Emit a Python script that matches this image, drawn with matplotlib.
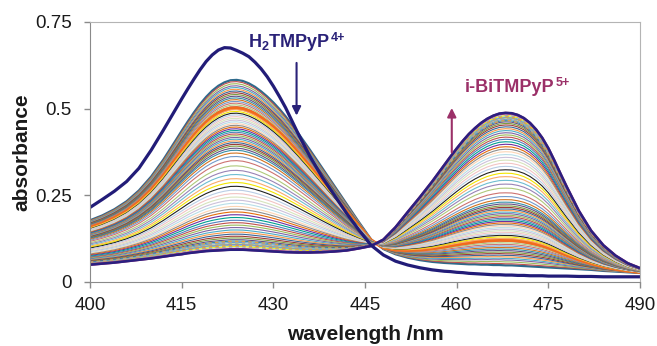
import numpy as np
import matplotlib
matplotlib.use('Agg')
import matplotlib.pyplot as plt

plt.rcParams['font.family'] = ['Liberation Sans', 'DejaVu Sans']
plt.rcParams['mathtext.fontset'] = 'custom'
plt.rcParams['mathtext.rm'] = 'Liberation Sans'
plt.rcParams['mathtext.bf'] = 'Liberation Sans:bold'

# wavelength grid (nm), 1 nm steps across both bands
wavelength = [400, 402, 404, 406, 408, 410, 412, 414,
              415, 416, 417, 418, 419, 420, 421, 422, 423, 424,
              425, 426, 427, 428, 429, 430, 431, 432,
              434, 436, 438, 440, 442, 444, 446, 448, 450, 452, 454, 456, 458,
              459, 460, 461, 462, 463, 464, 465, 466, 467, 468,
              469, 470, 471, 472, 473, 474, 475, 476, 477, 478,
              480, 482, 484, 486, 488, 490]

# free porphyrin H2TMPyP4+
free_porph = [0.215, 0.238, 0.262, 0.290, 0.328, 0.380, 0.438, 0.498,
              0.528, 0.557, 0.585, 0.612, 0.636, 0.655, 0.669, 0.676, 0.675, 0.668,
              0.660, 0.650, 0.634, 0.615, 0.592, 0.565, 0.535, 0.503,
              0.430, 0.362, 0.302, 0.250, 0.198, 0.150, 0.106, 0.078, 0.060, 0.049, 0.041, 0.035, 0.031,
              0.030, 0.028, 0.027, 0.025, 0.024, 0.023, 0.022, 0.021, 0.021, 0.020,
              0.020, 0.019, 0.019, 0.018, 0.018, 0.018, 0.017, 0.017, 0.017, 0.017,
              0.016, 0.016, 0.015, 0.015, 0.015, 0.015]

# first spectrum after Bi addition
first_scan = [0.178, 0.192, 0.210, 0.233, 0.264, 0.304, 0.353, 0.408,
              0.436, 0.463, 0.489, 0.513, 0.534, 0.552, 0.566, 0.576, 0.582, 0.583,
              0.580, 0.573, 0.563, 0.550, 0.535, 0.518, 0.499, 0.478,
              0.431, 0.381, 0.329, 0.277, 0.225, 0.173, 0.123, 0.095, 0.080, 0.070, 0.063, 0.058, 0.055,
              0.054, 0.053, 0.052, 0.051, 0.051, 0.050, 0.050, 0.049, 0.049, 0.048,
              0.048, 0.047, 0.046, 0.045, 0.044, 0.043, 0.042, 0.041, 0.040, 0.039,
              0.037, 0.035, 0.032, 0.030, 0.028, 0.026]

# final spectrum, i-BiTMPyP5+
last_scan = [0.050, 0.053, 0.056, 0.060, 0.064, 0.068, 0.073, 0.078,
             0.080, 0.083, 0.085, 0.087, 0.089, 0.090, 0.091, 0.092, 0.093, 0.093,
             0.093, 0.092, 0.091, 0.090, 0.089, 0.088, 0.087, 0.086,
             0.085, 0.085, 0.086, 0.088, 0.091, 0.097, 0.104, 0.122, 0.158, 0.202, 0.245, 0.290, 0.338,
             0.362, 0.385, 0.407, 0.427, 0.444, 0.459, 0.471, 0.480, 0.486, 0.488,
             0.487, 0.482, 0.473, 0.459, 0.440, 0.416, 0.386, 0.350, 0.312, 0.275,
             0.205, 0.148, 0.106, 0.076, 0.054, 0.040]

# Soret maximum (~423 nm) of every recorded scan
soret_max = [0.583, 0.578, 0.572, 0.566, 0.561, 0.556, 0.551, 0.546, 0.541, 0.536,
             0.531, 0.526, 0.521, 0.516, 0.511, 0.506, 0.502, 0.497, 0.492, 0.487,
             0.482, 0.477, 0.472, 0.467, 0.462, 0.457, 0.452, 0.447, 0.442, 0.437,
             0.432, 0.427, 0.422, 0.417, 0.412, 0.407, 0.402, 0.397, 0.392, 0.386,
             0.380, 0.372, 0.362, 0.350, 0.335, 0.322, 0.310, 0.298, 0.287, 0.276,
             0.265, 0.255, 0.245, 0.236, 0.227, 0.218, 0.210, 0.202, 0.194, 0.186,
             0.178, 0.171, 0.164, 0.157, 0.150, 0.144, 0.138, 0.132, 0.127, 0.122,
             0.118, 0.116, 0.114, 0.112, 0.110, 0.108, 0.106, 0.104, 0.102, 0.100,
             0.098, 0.097, 0.096, 0.095, 0.094, 0.093]

xticks = [400, 415, 430, 445, 460, 475, 490]
yticks = [0, 0.25, 0.5, 0.75]
ytick_labels = ['0', '0.25', '0.5', '0.75']

palette = ['#4F81BD', '#C0504D', '#9BBB59', '#8064A2', '#4BACC6', '#F79646',
           '#3A6595', '#9E3A38', '#7E9C40', '#664F83', '#358EA6', '#D3731F',
           '#729ACA', '#CD7371', '#AFC97A', '#9983B5', '#6FBDD1', '#F9AB6B',
           '#F2E600', '#222222', '#B9CDE5', '#F2C4C4', '#D7E4BD', '#CCC1DA',
           '#B7DEE8', '#FCD5B5', '#8C8C8C', '#E46C0A', '#7030A0', '#00A090']

fig = plt.figure(figsize=(6.57, 3.46), dpi=100)
ax = fig.add_axes([90 / 657, 1 - 282 / 346, 550 / 657, 260 / 346])

first = np.array(first_scan)
last = np.array(last_scan)
s0, s1 = soret_max[0], soret_max[-1]
n = len(soret_max)
for i, s in enumerate(soret_max):
    frac = (s0 - s) / (s0 - s1)
    spec = (1 - frac) * first + frac * last
    col = palette[i % len(palette)]
    lw, ls = 0.8, '-'
    if i == 0:
        col, lw = '#2E6A8C', 1.6
    elif abs(s - 0.502) < 1e-6:
        col, lw = '#F26B1D', 2.6
    elif s in (0.116, 0.104):
        col, ls, lw = '#F0A030', (0, (1.5, 1.5)), 1.6
    elif s in (0.112, 0.100):
        col, ls, lw = '#9AA8B8', (0, (1.5, 1.5)), 1.6
    elif i == n - 2:
        col, lw = '#A0307A', 2.0
    elif i == n - 1:
        col, lw = '#2A2080', 1.8
    ax.plot(wavelength, spec, color=col, lw=lw, ls=ls, solid_capstyle='butt')

ax.plot(wavelength, free_porph, color='#221C78', lw=2.3)

ax.annotate('', xy=(433.8, 0.472), xytext=(433.8, 0.640),
            arrowprops=dict(arrowstyle='-|>', color='#2A2278', lw=1.5, mutation_scale=13))
ax.annotate('', xy=(459.2, 0.51), xytext=(459.2, 0.366),
            arrowprops=dict(arrowstyle='-|>', color='#9B3068', lw=1.5, mutation_scale=13))

t1 = ax.text(425.8, 0.679, r'H$_\mathbf{2}$TMPyP', color='#2A2278',
             fontsize=13, fontweight='bold', va='baseline', ha='left')
ax.annotate('4+', xy=(1, 1), xycoords=t1, xytext=(0.5, -4.5), textcoords='offset points',
            color='#2A2278', fontsize=9, fontweight='bold', ha='left', va='center')
t2 = ax.text(461.4, 0.548, 'i-BiTMPyP', color='#9B3068',
             fontsize=13, fontweight='bold', va='baseline', ha='left')
ax.annotate('5+', xy=(1, 1), xycoords=t2, xytext=(0.5, -3), textcoords='offset points',
            color='#9B3068', fontsize=9, fontweight='bold', ha='left', va='center')

ax.set_xlim(400, 490)
ax.set_ylim(0, 0.75)
ax.set_xticks(xticks)
ax.set_yticks(yticks)
ax.set_yticklabels(ytick_labels)
ax.tick_params(direction='out', length=4, width=1, color='#8A8A8A',
               labelsize=13.5, labelcolor='#1A1A1A')
ax.tick_params(axis='y', pad=9)
ax.tick_params(axis='x', pad=7)
for side in ('left', 'bottom'):
    ax.spines[side].set_color('#8A8A8A')
for side in ('top', 'right'):
    ax.spines[side].set_color('#B4B4B4')

fig.text(22 / 657, 1 - 152 / 346, 'absorbance', rotation=90, ha='center', va='center',
         fontsize=15, fontweight='bold', color='#1A1A1A')
fig.text(365 / 657, 6 / 346, 'wavelength /nm', ha='center', va='baseline',
         fontsize=15, fontweight='bold', color='#1A1A1A')

fig.savefig('out.png', dpi=100)
